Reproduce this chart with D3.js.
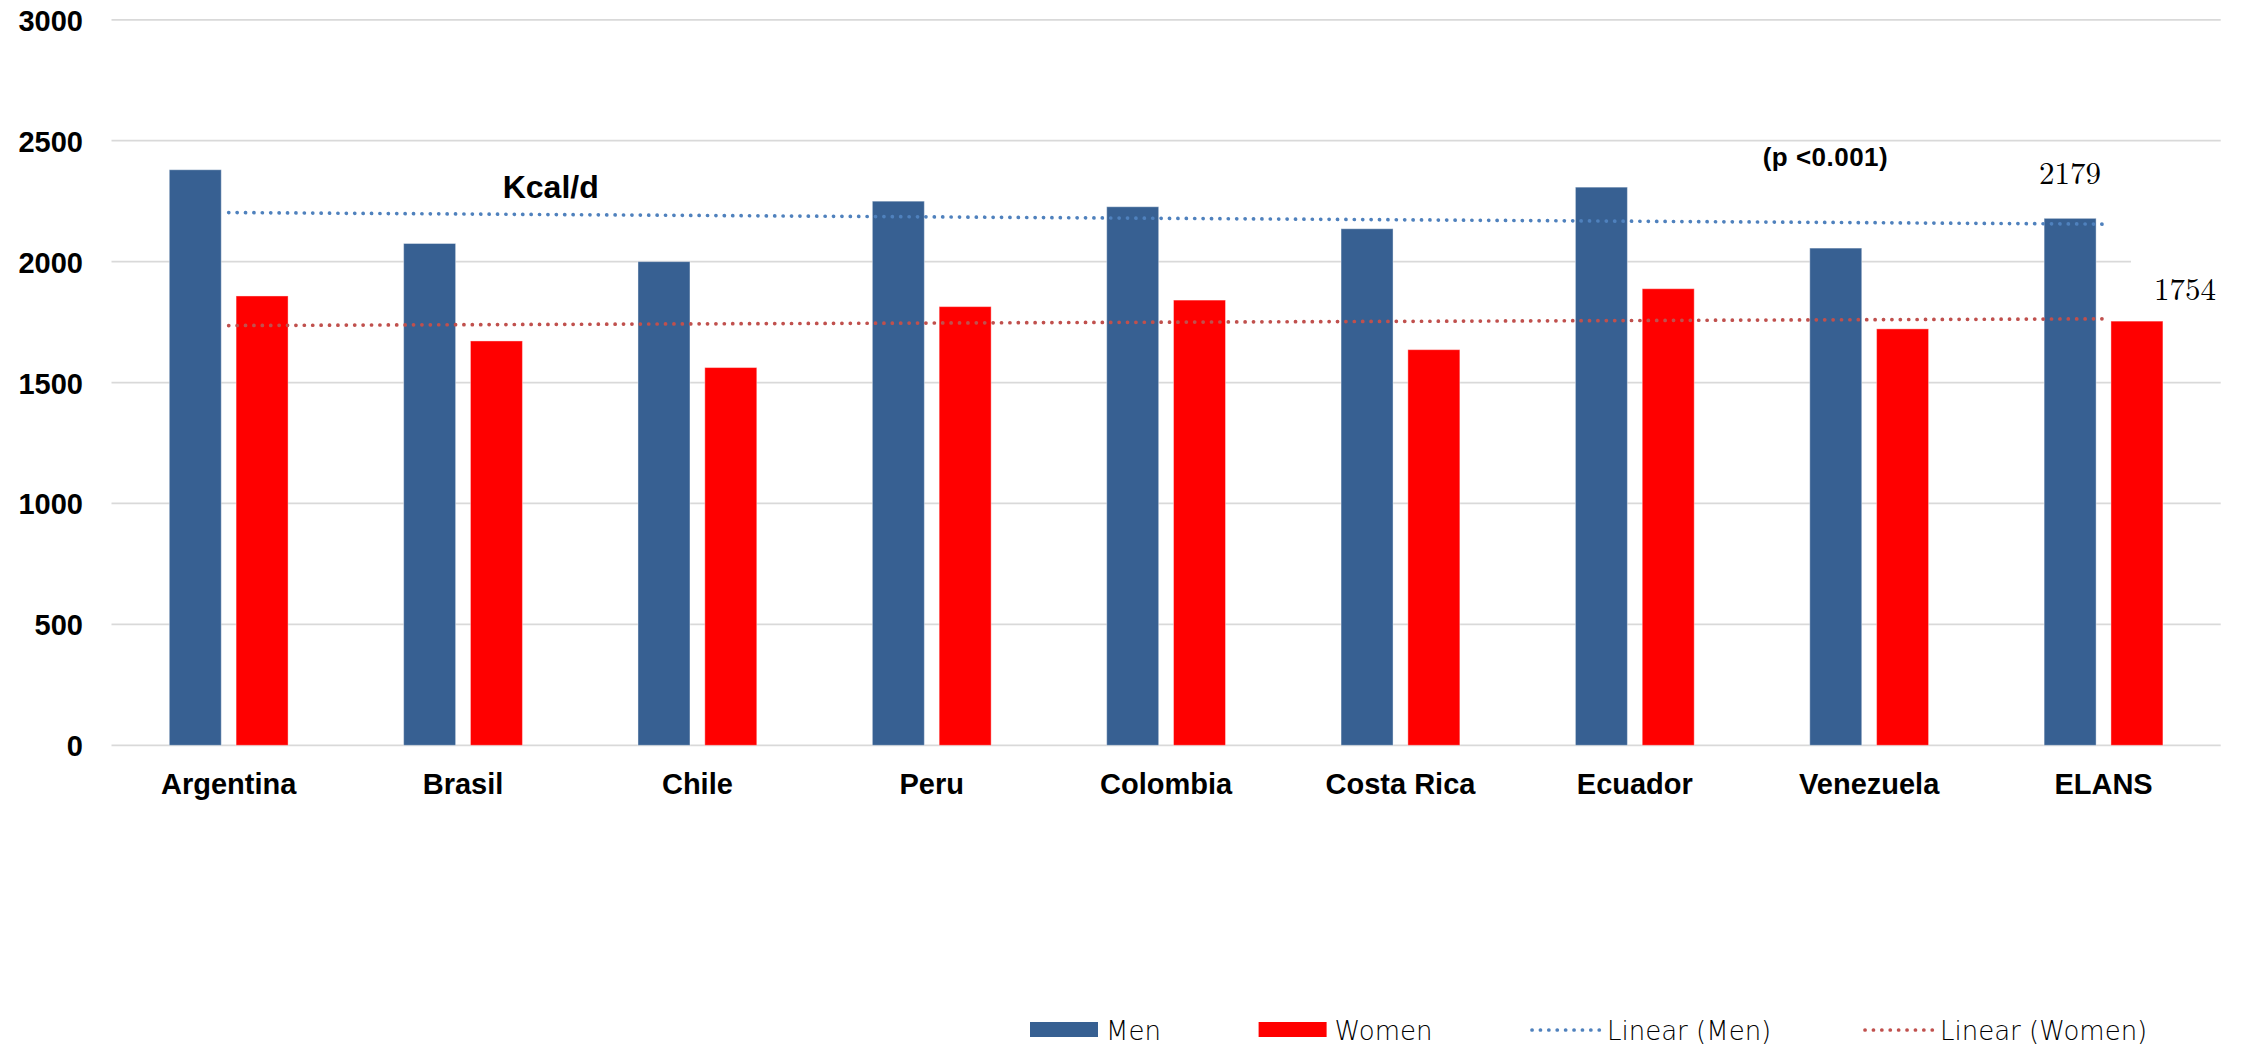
<!DOCTYPE html>
<html>
<head>
<meta charset="utf-8">
<script src="https://cdn.jsdelivr.net/npm/d3@7"></script>
<style>
  html, body { margin: 0; padding: 0; background: #ffffff; }
  svg { display: block; }
</style>
</head>
<body>
<svg id="chart" width="2244" height="1045"></svg>
<script>
// Daily energy intake (kcal/d) by country and sex
const categories = ["Argentina", "Brasil", "Chile", "Peru", "Colombia", "Costa Rica", "Ecuador", "Venezuela", "ELANS"];
const menKcal   = [2380, 2075, 2000, 2250, 2227, 2136, 2308, 2056, 2179];
const womenKcal = [1858, 1672, 1562, 1814, 1841, 1636, 1888, 1722, 1754];
const seriesNames = ["Men", "Women"];
const trendNames = ["Linear (Men)", "Linear (Women)"];
const yTicks = [0, 500, 1000, 1500, 2000, 2500, 3000];
const unitLabel = "Kcal/d";
const pLabel = "(p <0.001)";

const colors = { Men: "#376092", Women: "#ff0000" };
const trendColors = { Men: "#4f81bd", Women: "#c0504d" };

const svg = d3.select("#chart");

const x = d3.scaleBand().domain(categories).range([111.5, 2220.7]).padding(0);
const x1 = d3.scaleBand().domain(seriesNames).range([-59.4, 59.4]).paddingInner(0.222);
const y = d3.scaleLinear().domain([0, 3000]).range([745.3, 19.8]);
const cx = c => x(c) + x.bandwidth() / 2;

const boldFont = "'Liberation Sans', Arial, sans-serif";

// horizontal gridlines
svg.append("g")
  .selectAll("line")
  .data(yTicks)
  .join("line")
  .attr("x1", x.range()[0])
  .attr("x2", x.range()[1])
  .attr("y1", d => y(d))
  .attr("y2", d => y(d))
  .attr("stroke", "#d9d9d9")
  .attr("stroke-width", 1.8);

// y axis labels
const yAxis = d3.axisLeft(y).tickValues(yTicks).tickSize(0).tickPadding(0).tickFormat(d3.format("d"));
const gy = svg.append("g").attr("transform", "translate(83,0)").call(yAxis);
gy.select(".domain").remove();
gy.selectAll("text")
  .attr("font-family", boldFont)
  .attr("font-weight", "bold")
  .attr("font-size", 29)
  .attr("fill", "#000")
  .attr("dy", "0.36em");

// x axis labels
const xAxis = d3.axisBottom(x).tickSize(0).tickPadding(0);
const gx = svg.append("g").attr("transform", "translate(0,794)").call(xAxis);
gx.select(".domain").remove();
gx.selectAll("text")
  .attr("font-family", boldFont)
  .attr("font-weight", "bold")
  .attr("font-size", 29)
  .attr("fill", "#000")
  .attr("y", 0)
  .attr("dy", 0);

// bars
const rows = categories.map((c, i) => ({ cat: c, Men: menKcal[i], Women: womenKcal[i] }));
const groups = svg.append("g")
  .selectAll("g")
  .data(rows)
  .join("g")
  .attr("transform", d => `translate(${cx(d.cat)},0)`);

groups.selectAll("rect")
  .data(d => seriesNames.map(s => ({ s, v: d[s] })))
  .join("rect")
  .attr("x", d => x1(d.s))
  .attr("width", x1.bandwidth())
  .attr("y", d => y(d.v))
  .attr("height", d => y(0) - y(d.v))
  .attr("fill", d => colors[d.s])
  .attr("stroke", "rgba(255,255,255,0.4)")
  .attr("stroke-width", 1);

// linear trendlines (least squares over category index)
function linearFit(values) {
  const n = values.length;
  const xs = values.map((_, i) => i + 1);
  const mx = d3.mean(xs), my = d3.mean(values);
  let num = 0, den = 0;
  xs.forEach((xi, i) => { num += (xi - mx) * (values[i] - my); den += (xi - mx) ** 2; });
  const slope = num / den;
  const icpt = my - slope * mx;
  return [icpt + slope * 1, icpt + slope * n];
}

const trendGroup = svg.append("g");
[["Men", menKcal], ["Women", womenKcal]].forEach(([s, vals]) => {
  const [y0, y1] = linearFit(vals);
  const pts = [[cx(categories[0]), y(y0)], [cx(categories[categories.length - 1]), y(y1)]];
  trendGroup.append("path")
    .attr("d", d3.line()(pts))
    .attr("fill", "none")
    .attr("stroke", trendColors[s])
    .attr("stroke-width", 3.7)
    .attr("stroke-linecap", "round")
    .attr("stroke-dasharray", "0.1 8.3");
});

// annotations
svg.append("text")
  .attr("x", 502.7).attr("y", 198)
  .attr("font-family", boldFont).attr("font-weight", "bold").attr("font-size", 32)
  .attr("fill", "#000")
  .text(unitLabel);

svg.append("text")
  .attr("x", 1762.7).attr("y", 166)
  .attr("font-family", boldFont).attr("font-weight", "bold").attr("font-size", 26)
  .attr("textLength", 125).attr("lengthAdjust", "spacing")
  .attr("fill", "#000")
  .text(pLabel);

// ELANS value labels
const last = categories.length - 1;
const elans = categories[last];
const serif = "'Latin Modern Roman', 'Liberation Serif', 'DejaVu Serif', serif";

const menCx = cx(elans) + x1("Men") + x1.bandwidth() / 2;
const womenCx = cx(elans) + x1("Women") + x1.bandwidth() / 2;

// white label box behind the women's value
svg.append("rect")
  .attr("x", womenCx - 6).attr("y", y(womenKcal[last]) - 68)
  .attr("width", 100).attr("height", 58)
  .attr("fill", "#ffffff");

svg.append("text")
  .attr("x", menCx).attr("y", y(menKcal[last]) - 34)
  .attr("text-anchor", "middle")
  .attr("font-family", serif).attr("font-size", 31)
  .attr("fill", "#000")
  .text(menKcal[last]);

svg.append("text")
  .attr("x", womenCx + 48).attr("y", y(womenKcal[last]) - 21)
  .attr("text-anchor", "middle")
  .attr("font-family", serif).attr("font-size", 31)
  .attr("fill", "#000")
  .text(womenKcal[last]);

// legend
const legendFont = "'DejaVu Sans', sans-serif";
const legend = svg.append("g");
const swatchX = [1030, 1258.6];
seriesNames.forEach((s, i) => {
  legend.append("rect")
    .attr("x", swatchX[i]).attr("y", 1022)
    .attr("width", 68).attr("height", 15)
    .attr("fill", colors[s]);
  legend.append("text")
    .attr("x", swatchX[i] + 76).attr("y", 1040)
    .attr("font-family", legendFont).attr("font-size", 26).attr("font-weight", 300)
    .attr("fill", "#000")
    .text(s);
});
const lineX = [1530, 1863];
seriesNames.forEach((s, i) => {
  legend.append("line")
    .attr("x1", lineX[i] + 2).attr("x2", lineX[i] + 70)
    .attr("y1", 1030).attr("y2", 1030)
    .attr("stroke", trendColors[s])
    .attr("stroke-width", 3.7)
    .attr("stroke-linecap", "round")
    .attr("stroke-dasharray", "0.1 8.3");
  legend.append("text")
    .attr("x", lineX[i] + 77).attr("y", 1040)
    .attr("font-family", legendFont).attr("font-size", 26).attr("font-weight", 300)
    .attr("fill", "#000")
    .text(trendNames[i]);
});
</script>
</body>
</html>
